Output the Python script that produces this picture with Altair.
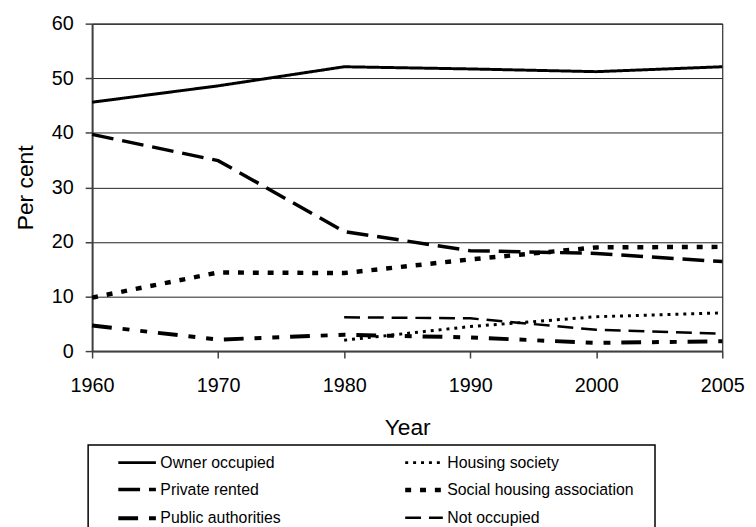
import altair as alt
import pandas as pd

years = ["1960", "1970", "1980", "1990", "2000", "2005"]
owner_occupied = [45.6, 48.6, 52.1, 51.7, 51.2, 52.1]
private_rented = [39.7, 34.9, 21.9, 18.4, 17.9, 16.4]
public_authorities = [4.7, 2.1, 3.0, 2.5, 1.5, 1.8]
social_housing_association = [9.8, 14.4, 14.3, 16.8, 19.0, 19.1]
housing_society = [None, None, 2.0, 4.5, 6.3, 7.0]
not_occupied = [None, None, 6.2, 6.0, 3.9, 3.2]

# legend fills column by column: left column first, then right column
series_names = [
    "Owner occupied",
    "Private rented",
    "Public authorities",
    "Housing society",
    "Social housing association",
    "Not occupied",
]
series_values = {
    "Owner occupied": owner_occupied,
    "Housing society": housing_society,
    "Private rented": private_rented,
    "Social housing association": social_housing_association,
    "Public authorities": public_authorities,
    "Not occupied": not_occupied,
}

rows = []
for name in series_names:
    for yr, v in zip(years, series_values[name]):
        if v is not None:
            rows.append({"Year": yr, "Per cent": v, "Series": name})
df = pd.DataFrame(rows)

dash_styles = {
    "Owner occupied": [1, 0],
    "Housing society": [3, 5],
    "Private rented": [22, 9],
    "Social housing association": [6, 9],
    "Public authorities": [20, 11, 7, 11, 7, 11],
    "Not occupied": [16, 8],
}
width_styles = {
    "Owner occupied": 3,
    "Housing society": 3,
    "Private rented": 3.5,
    "Social housing association": 4.5,
    "Public authorities": 4,
    "Not occupied": 2.5,
}

lines = alt.Chart(df).mark_line(color="black").encode(
    x=alt.X(
        "Year:O",
        sort=years,
        scale=alt.Scale(type="point", padding=0),
        axis=alt.Axis(
            title="Year",
            labelAngle=0,
            grid=False,
            tickSize=7,
            labelPadding=18,
            titlePadding=21,
        ),
    ),
    y=alt.Y(
        "Per cent:Q",
        scale=alt.Scale(domain=[0, 60], nice=False),
        axis=alt.Axis(
            title="Per cent",
            values=[0, 10, 20, 30, 40, 50, 60],
            grid=True,
            tickSize=7,
            labelPadding=12,
            titlePadding=14,
        ),
    ),
    strokeDash=alt.StrokeDash(
        "Series:N",
        scale=alt.Scale(domain=series_names, range=[dash_styles[s] for s in series_names]),
        legend=alt.Legend(
            title=None,
            orient="none",
            legendX=33,
            legendY=432,
            columns=2,
            columnPadding=116,
            rowPadding=7,
            symbolType="M-1.9,0H1.9",
            symbolSize=400,
            symbolStrokeWidth=3,
            symbolStrokeColor="black",
            labelFont="Liberation Sans",
            labelFontSize=16,
            labelColor="black",
            labelOffset=11,
            labelLimit=260,
            padding=0,
        ),
    ),
    strokeWidth=alt.StrokeWidth(
        "Series:N",
        scale=alt.Scale(type="ordinal", domain=series_names, range=[width_styles[s] for s in series_names]),
        legend=None,
    ),
)

frame = alt.Chart(pd.DataFrame({"a": [0]})).mark_rect(
    fill=None, stroke="black", strokeWidth=1.5
).encode(
    x=alt.value(-4), x2=alt.value(569), y=alt.value(426), y2=alt.value(540)
)

chart = alt.layer(lines, frame).properties(
    width=637,
    height=331,
    autosize=alt.AutoSizeParams(type="none"),
    padding={"left": 85, "top": 13, "right": 26, "bottom": 175},
).configure_view(
    stroke="black", strokeWidth=1
).configure_axis(
    labelFont="Liberation Sans",
    titleFont="Liberation Sans",
    labelFontSize=20,
    titleFontSize=23,
    titleFontWeight="normal",
    labelColor="black",
    titleColor="black",
    domainColor="#404040",
    domainWidth=2,
    tickColor="#404040",
    tickWidth=1.5,
    gridColor="#222222",
    gridWidth=1,
)

chart.save("out.html", embed_options={"renderer": "svg", "actions": False})
